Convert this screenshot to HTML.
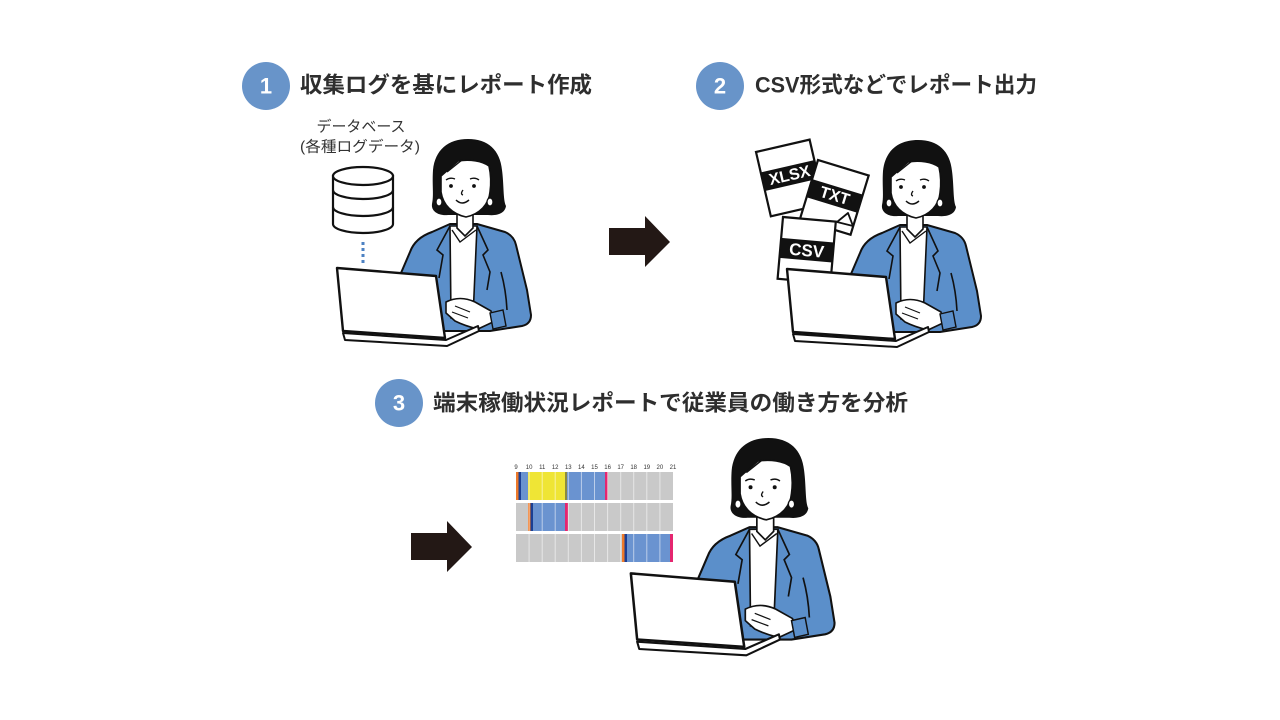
<!DOCTYPE html>
<html><head><meta charset="utf-8"><style>
html,body{margin:0;padding:0;background:#fff;}
svg{display:block;}
.h{font-family:"Liberation Sans","Noto Sans CJK JP",sans-serif;font-weight:bold;font-size:22px;fill:#2e2e2e;}
.n{font-family:"Liberation Sans",sans-serif;font-weight:bold;font-size:22px;fill:#fff;}
.lb{font-family:"Liberation Sans","Noto Sans CJK JP",sans-serif;font-size:15px;fill:#333;}
.ft{font-family:"Liberation Sans",sans-serif;font-weight:bold;font-size:16px;fill:#fff;}
.hr{font-family:"Liberation Sans",sans-serif;font-size:6px;fill:#333;}
</style></head><body>
<svg width="1280" height="720" viewBox="0 0 1280 720" xmlns="http://www.w3.org/2000/svg">
<defs>
<g id="woman">
  <!-- jacket -->
  <path d="M398,280 L410,252 Q415,238 432,232 L450,224 L477,224 L505,232 Q514,236 516,245 L527,290 L531,315 Q531,324 522,326 L490,331 L400,331 Z" fill="#5b8fca" stroke="#111" stroke-width="2" stroke-linejoin="round"/>
  <!-- shirt -->
  <path d="M450,226 L477,226 L473,318 L451,318 Z" fill="#fff" stroke="#111" stroke-width="1.6"/>
  <path d="M452,230 L460,242 L468,236 L476,230" fill="none" stroke="#111" stroke-width="1.4"/>
  <!-- lapels -->
  <path d="M450,226 L437,250 L443,255 L439,278" fill="none" stroke="#111" stroke-width="1.6"/>
  <path d="M477,226 L488,250 L483,255 L490,272 L487,290" fill="none" stroke="#111" stroke-width="1.6"/>
  <path d="M501,272 Q506,290 507,310" fill="none" stroke="#111" stroke-width="1.6"/>
  <!-- neck -->
  <path d="M457,208 L457,228 L465,236 L473,228 L473,208 Z" fill="#fff" stroke="#111" stroke-width="1.6"/>
  <!-- hair -->
  <path d="M468,139 C488,139 500,150 502,170 C504,185 503,200 506,206 C505,213 498,216 488,215 L448,215 C438,216 431,211 432,204 C434,195 432,185 433,170 C435,150 448,139 468,139 Z" fill="#111"/>
  <!-- face -->
  <path d="M441,176 L458,161 C470,159 482,161 489,166 C491,175 491,185 490,192 C489,204 480,214 466,217 C452,214 443,205 441,192 Z" fill="#fff" stroke="#111" stroke-width="1.6"/>
  <path d="M447,172 L462,160" stroke="#111" stroke-width="1.4"/>
  <!-- features -->
  <path d="M446,180 Q450,177 455,179 M470,179 Q475,177 479,180" fill="none" stroke="#111" stroke-width="1.4"/>
  <circle cx="451" cy="186" r="1.9" fill="#111"/>
  <circle cx="474" cy="186" r="1.9" fill="#111"/>
  <path d="M463,190 Q460,194 463,195" fill="none" stroke="#111" stroke-width="1.3"/>
  <path d="M456,200 Q462,206 469,200" fill="none" stroke="#111" stroke-width="1.5"/>
  <ellipse cx="439" cy="202" rx="3" ry="4" fill="#fff" stroke="#111" stroke-width="1.3"/>
  <ellipse cx="490" cy="202" rx="3" ry="4" fill="#fff" stroke="#111" stroke-width="1.3"/>
  <!-- laptop -->
  <polygon points="337,268 436,276 445,338 343,331" fill="#fff" stroke="#111" stroke-width="2.4" stroke-linejoin="round"/>
  <!-- hands -->
  <path d="M446,302 Q460,295 475,302 L491,311 L493,322 L478,329 Q465,326 455,321 L446,313 Z" fill="#fff" stroke="#111" stroke-width="1.6" stroke-linejoin="round"/>
  <path d="M455,306 L470,312 M452,312 L468,318" fill="none" stroke="#111" stroke-width="1.2"/>
  <path d="M490,313 L503,310 L506,326 L493,329 Z" fill="#5b8fca" stroke="#111" stroke-width="1.4"/>
  <polygon points="343,333 446,340 478,326 479,331 447,346 345,340" fill="#fff" stroke="#111" stroke-width="2" stroke-linejoin="round"/>
</g>
<g id="arrow">
  <polygon points="609,228 645,228 645,216 670,242 645,267 645,255 609,255" fill="#231815"/>
</g>
</defs>

<!-- headers -->
<circle cx="266" cy="86" r="24" fill="#6894c9"/>
<text class="n" x="266" y="86" text-anchor="middle" dominant-baseline="central">1</text>
<text class="h" x="300" y="85" dominant-baseline="central" textLength="292" lengthAdjust="spacingAndGlyphs">収集ログを基にレポート作成</text>

<circle cx="720" cy="86" r="24" fill="#6894c9"/>
<text class="n" x="720" y="86" text-anchor="middle" dominant-baseline="central">2</text>
<text class="h" x="755" y="85" dominant-baseline="central" textLength="282" lengthAdjust="spacingAndGlyphs">CSV形式などでレポート出力</text>

<circle cx="399" cy="403" r="24" fill="#6894c9"/>
<text class="n" x="399" y="403" text-anchor="middle" dominant-baseline="central">3</text>
<text class="h" x="433" y="403" dominant-baseline="central" textLength="475" lengthAdjust="spacingAndGlyphs">端末稼働状況レポートで従業員の働き方を分析</text>

<!-- figure 1 -->
<text class="lb" x="361" y="127" text-anchor="middle" dominant-baseline="central" textLength="89" lengthAdjust="spacingAndGlyphs">データベース</text>
<text class="lb" x="360" y="147" text-anchor="middle" dominant-baseline="central" textLength="120" lengthAdjust="spacingAndGlyphs">(各種ログデータ)</text>
<g fill="#fff" stroke="#111" stroke-width="2.2">
  <path d="M333,176 L333,224 A30,9 0 0 0 393,224 L393,176 Z"/>
  <ellipse cx="363" cy="176" rx="30" ry="9"/>
  <path d="M333,190 A30,9 0 0 0 393,190" fill="none"/>
  <path d="M333,207 A30,9 0 0 0 393,207" fill="none"/>
</g>
<line x1="363" y1="242" x2="363" y2="266" stroke="#4d82c3" stroke-width="3" stroke-dasharray="3,3"/>
<use href="#woman"/>

<use href="#arrow"/>

<!-- figure 2 -->
<g transform="translate(756,152) rotate(-13)">
  <rect x="0" y="0" width="55" height="66" fill="#fff" stroke="#111" stroke-width="2.2"/>
  <rect x="0" y="21" width="55" height="19" fill="#111"/>
  <text class="ft" x="27.5" y="31" text-anchor="middle" dominant-baseline="central">XLSX</text>
</g>
<g transform="translate(818,160) rotate(17)">
  <rect x="0" y="0" width="53" height="62" fill="#fff" stroke="#111" stroke-width="2.2"/>
  <rect x="0" y="20" width="53" height="19" fill="#111"/>
  <text class="ft" x="26.5" y="30" text-anchor="middle" dominant-baseline="central">TXT</text>
</g>
<g transform="translate(783,217) rotate(5)">
  <rect x="0" y="0" width="53" height="62" fill="#fff" stroke="#111" stroke-width="2.2"/>
  <rect x="0" y="21" width="53" height="20" fill="#111"/>
  <text class="ft" x="26.5" y="31.5" text-anchor="middle" dominant-baseline="central" style="font-size:17px">CSV</text>
</g>
<polygon points="837,222 848,213 853,226" fill="#fff" stroke="#111" stroke-width="1.8" stroke-linejoin="round"/>
<use href="#woman" transform="translate(450,1)"/>

<!-- figure 3 -->
<use href="#arrow" transform="translate(-198,305)"/>

<g>
  <g class="hr" text-anchor="middle">
    <text x="516" y="469">9</text><text x="529.1" y="469">10</text><text x="542.2" y="469">11</text><text x="555.2" y="469">12</text><text x="568.3" y="469">13</text><text x="581.4" y="469">14</text><text x="594.5" y="469">15</text><text x="607.6" y="469">16</text><text x="620.7" y="469">17</text><text x="633.7" y="469">18</text><text x="646.8" y="469">19</text><text x="659.9" y="469">20</text><text x="673" y="469">21</text>
  </g>
  <!-- row backgrounds -->
  <rect x="516" y="472" width="157" height="28" fill="#c9c9c9"/>
  <rect x="516" y="503" width="157" height="28" fill="#c9c9c9"/>
  <rect x="516" y="534" width="157" height="28" fill="#c9c9c9"/>
  <!-- row 1 -->
  <rect x="516" y="472" width="2.5" height="28" fill="#ee7a2a"/>
  <rect x="518.5" y="472" width="2.5" height="28" fill="#1b3f93"/>
  <rect x="521" y="472" width="7" height="28" fill="#6a93d0"/>
  <rect x="528" y="472" width="39" height="28" fill="#efe535"/>
  <rect x="565" y="472" width="2" height="28" fill="#8a8a40"/>
  <rect x="567" y="472" width="38" height="28" fill="#6a93d0"/>
  <rect x="605" y="472" width="3" height="28" fill="#e5266f"/>
  <!-- row 2 -->
  <rect x="528" y="503" width="2.5" height="28" fill="#ee7a2a"/>
  <rect x="530.5" y="503" width="2.5" height="28" fill="#1b3f93"/>
  <rect x="533" y="503" width="32" height="28" fill="#6a93d0"/>
  <rect x="565" y="503" width="3" height="28" fill="#e5266f"/>
  <!-- row 3 -->
  <rect x="622" y="534" width="2.5" height="28" fill="#ee7a2a"/>
  <rect x="624.5" y="534" width="2.5" height="28" fill="#1b3f93"/>
  <rect x="627" y="534" width="43" height="28" fill="#6a93d0"/>
  <rect x="670" y="534" width="3" height="28" fill="#e5266f"/>
  <!-- separators -->
  <g stroke="#ffffff" stroke-opacity="0.55" stroke-width="1">
    <line x1="529.1" y1="472" x2="529.1" y2="562"/><line x1="542.2" y1="472" x2="542.2" y2="562"/><line x1="555.2" y1="472" x2="555.2" y2="562"/><line x1="568.3" y1="472" x2="568.3" y2="562"/><line x1="581.4" y1="472" x2="581.4" y2="562"/><line x1="594.5" y1="472" x2="594.5" y2="562"/><line x1="607.6" y1="472" x2="607.6" y2="562"/><line x1="620.7" y1="472" x2="620.7" y2="562"/><line x1="633.7" y1="472" x2="633.7" y2="562"/><line x1="646.8" y1="472" x2="646.8" y2="562"/><line x1="659.9" y1="472" x2="659.9" y2="562"/>
  </g>
  <rect x="516" y="500" width="157" height="3" fill="#fff"/>
  <rect x="516" y="531" width="157" height="3" fill="#fff"/>
</g>

<use href="#woman" transform="translate(277,292) scale(1.05)"/>
</svg>
</body></html>
